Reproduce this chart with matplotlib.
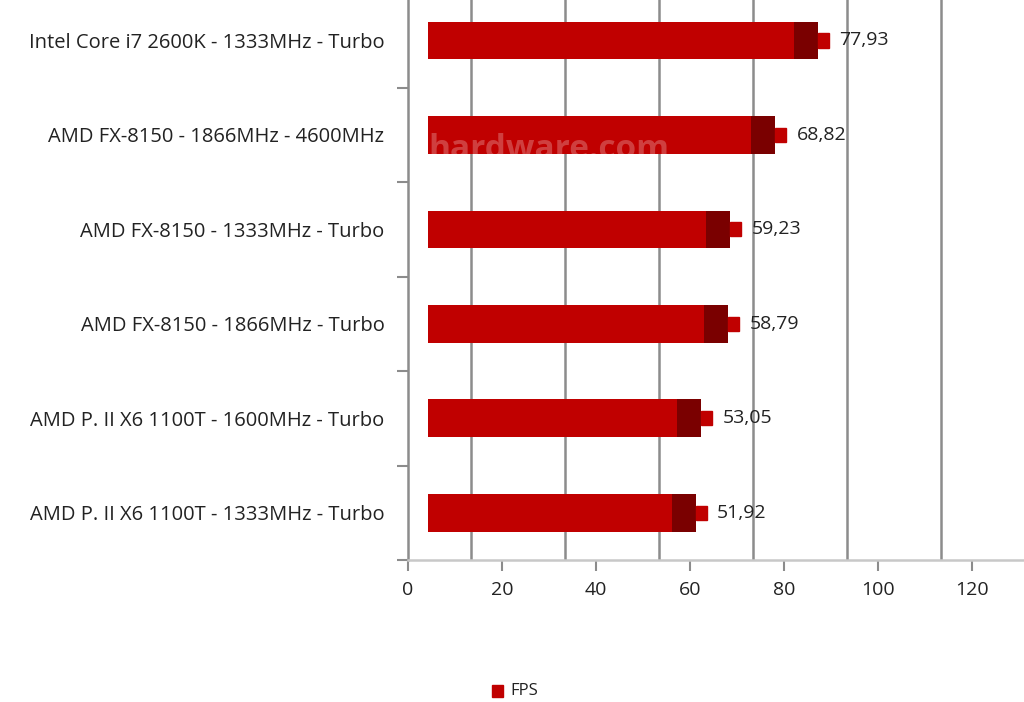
import matplotlib
matplotlib.use("Agg")
import matplotlib.pyplot as plt
from matplotlib.patches import Rectangle

# dati (dal basso verso l'alto)
cpu = [
    "AMD P. II X6 1100T - 1333MHz - Turbo",
    "AMD P. II X6 1100T - 1600MHz - Turbo",
    "AMD FX-8150 - 1866MHz - Turbo",
    "AMD FX-8150 - 1333MHz - Turbo",
    "AMD FX-8150 - 1866MHz - 4600MHz",
    "Intel Core i7 2600K - 1333MHz - Turbo",
]
fps = [51.92, 53.05, 58.79, 59.23, 68.82, 77.93]
etichette = ["51,92", "53,05", "58,79", "59,23", "68,82", "77,93"]
xticks = [0, 20, 40, 60, 80, 100, 120]

rosso = "#C00000"
scuro = "#7A0000"
grigio = "#8C8C8C"
plt.rcParams['font.family'] = ['Open Sans', 'DejaVu Sans']

fig = plt.figure(figsize=(10.24, 7.02), dpi=100)
# asse: 0 -> x=408px, 4.7 px per unita
ax = fig.add_axes([408 / 1024, (702 - 560) / 702, 616 / 1024, 560 / 702])
ax.set_xlim(0, 616 / 4.7)
ax.set_ylim(-0.497, 513 / 94.5)

spost = 20 / 4.7      # effetto 3D: barre spostate a destra
prof = 24 / 4.7       # profondita (lato scuro)
griglia_off = -6.6    # griglia spostata

for g in xticks[1:]:
    ax.axvline(g + griglia_off, color=grigio, lw=1.8, zorder=1)

h = 0.40
barre = []
for i, v in enumerate(fps):
    b = ax.barh(i, v, left=spost, height=h, color=rosso, zorder=3)
    barre.append(b[0])
    ax.barh(i, prof, left=spost + v, height=h, color=scuro, zorder=3)
    ax.add_patch(Rectangle((spost + v + prof, i - 0.075), 2.3, 0.15,
                           color=rosso, zorder=3))
    ax.text(spost + v + prof + 4.5, i, etichette[i], va="center", ha="left",
            fontsize=14, color="#222222", zorder=4)

# watermark
wm = ax.text(spost + 0.1, 4 - 0.24, "hardware.com", color="white", alpha=0.25,
             fontsize=24, fontweight="bold", va="baseline", ha="left", zorder=5)
wm.set_clip_path(barre[4])

ax.set_yticks(range(len(cpu)))
ax.set_yticklabels(cpu, fontsize=14.5, color="#222222")
ax.set_yticks([i + 0.5 for i in range(len(cpu) - 1)] + [-0.5], minor=True)
ax.tick_params(axis="y", which="major", length=0, pad=17)
ax.tick_params(axis="y", which="minor", length=8, color=grigio, width=1.5)
ax.set_xticks(xticks)
ax.set_xticklabels([str(t) for t in xticks], fontsize=14, color="#222222")
ax.tick_params(axis="x", length=8, color=grigio, width=1.5, pad=7)

for s in ["top", "right"]:
    ax.spines[s].set_visible(False)
ax.spines["left"].set_color(grigio)
ax.spines["left"].set_linewidth(1.8)
ax.spines["bottom"].set_color("#C8C8C8")
ax.spines["bottom"].set_linewidth(1.8)

# legenda
fig.patches.append(Rectangle((492 / 1024, 1 - 697 / 702), 11 / 1024, 12 / 702,
                             transform=fig.transFigure, color=rosso))
fig.text(510 / 1024, 1 - 691 / 702, "FPS", fontsize=12, va="center",
         ha="left", color="#222222")

fig.savefig("out.png", dpi=100)
